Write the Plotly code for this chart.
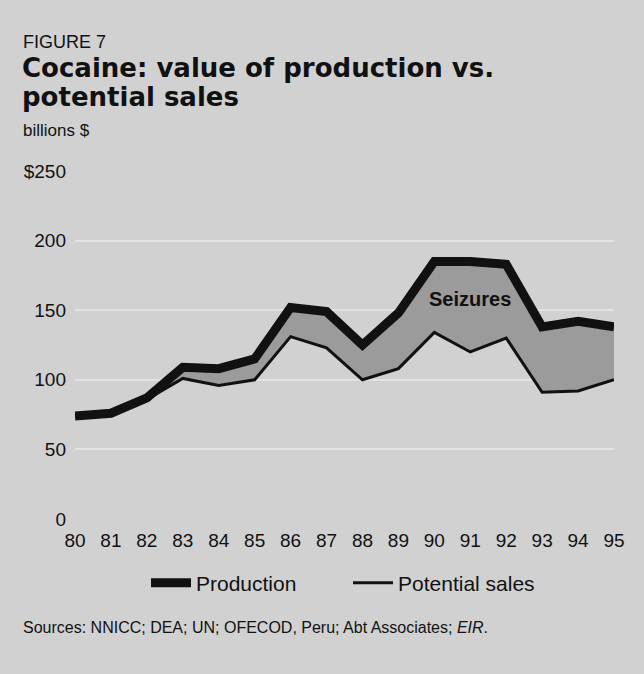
import plotly.graph_objects as go

# Years (19xx) and value series, billions of dollars
years = [80, 81, 82, 83, 84, 85, 86, 87, 88, 89, 90, 91, 92, 93, 94, 95]
year_labels = [str(y) for y in years]
production = [74, 76, 87, 109, 108, 115, 152, 149, 125, 148, 185, 185, 183, 138, 142, 138]
potential_sales = [74, 76, 86, 101, 96, 100, 131, 123, 100, 108, 134, 120, 130, 91, 92, 100]

y_ticks = [0, 50, 100, 150, 200, 250]
y_tick_labels = ["0", "50", "100", "150", "200", "$250"]

BG = "#d1d1d1"
BAND = "#9b9b9b"
INK = "#111111"

# Plot-area geometry in pixels
W, H = 644, 674
L, R, T, B = 75, 30, 171, 155
PW, PH = W - L - R, H - T - B


def px_x(px):
    return (px - L) / PW


def px_y(py):
    return (H - B - py) / PH


fig = go.Figure()

# Shaded band between potential sales and production ("Seizures")
fig.add_trace(go.Scatter(x=years, y=potential_sales, mode="lines",
                         line=dict(width=0, color=BAND), showlegend=False,
                         hoverinfo="skip"))
fig.add_trace(go.Scatter(x=years, y=production, mode="lines", fill="tonexty",
                         fillcolor=BAND, line=dict(width=0, color=BAND),
                         showlegend=False, hoverinfo="skip"))

# The two series
fig.add_trace(go.Scatter(x=years, y=production, mode="lines", name="Production",
                         line=dict(color=INK, width=9)))
fig.add_trace(go.Scatter(x=years, y=potential_sales, mode="lines", name="Potential sales",
                         line=dict(color=INK, width=3)))

annotations = [
    dict(text="FIGURE 7", x=px_x(21), y=px_y(42), xanchor="left", yanchor="middle",
         font=dict(family="Liberation Sans, Arial", size=18, color=INK)),
    dict(text="<b>Cocaine: value of production vs.</b>", x=px_x(20), y=px_y(68),
         xanchor="left", yanchor="middle",
         font=dict(family="DejaVu Sans", size=26, color=INK)),
    dict(text="<b>potential sales</b>", x=px_x(20), y=px_y(97),
         xanchor="left", yanchor="middle",
         font=dict(family="DejaVu Sans", size=26, color=INK)),
    dict(text="billions $", x=px_x(21), y=px_y(131), xanchor="left", yanchor="middle",
         font=dict(family="Liberation Sans, Arial", size=17, color=INK)),
    dict(text="<b>Seizures</b>", x=91, y=158, xref="x", yref="y",
         xanchor="center", yanchor="middle",
         font=dict(family="Liberation Sans, Arial", size=20, color=INK)),
    dict(text="Sources: NNICC; DEA; UN; OFECOD, Peru; Abt Associates; <i>EIR</i>.",
         x=px_x(21), y=px_y(627), xanchor="left", yanchor="middle",
         font=dict(family="Liberation Sans, Arial", size=16, color=INK)),
]
for a in annotations:
    a.setdefault("xref", "paper")
    a.setdefault("yref", "paper")
    a["showarrow"] = False

fig.update_layout(
    width=W, height=H, autosize=False,
    margin=dict(l=L, r=R, t=T, b=B, pad=0),
    paper_bgcolor=BG, plot_bgcolor=BG,
    font=dict(family="Liberation Sans, Arial", color=INK),
    annotations=annotations,
    showlegend=True,
    legend=dict(orientation="h", x=px_x(146), y=px_y(583), xanchor="left",
                yanchor="middle", bgcolor="rgba(0,0,0,0)",
                font=dict(size=21, color=INK), itemwidth=40, entrywidth=147,
                entrywidthmode="pixels", traceorder="normal"),
    xaxis=dict(range=[80, 95], tickvals=years, ticktext=year_labels,
               showgrid=False, zeroline=False, showline=False, ticks="",
               ticklabelstandoff=8, tickfont=dict(size=19, color=INK)),
    yaxis=dict(range=[0, 250], tickvals=y_ticks, ticktext=y_tick_labels,
               showgrid=True, gridcolor="rgba(255,255,255,0.4)", gridwidth=1.5,
               zeroline=False, showline=False, ticks="",
               ticklabelstandoff=8, tickfont=dict(size=19, color=INK)),
)

fig.write_html("out.html")
